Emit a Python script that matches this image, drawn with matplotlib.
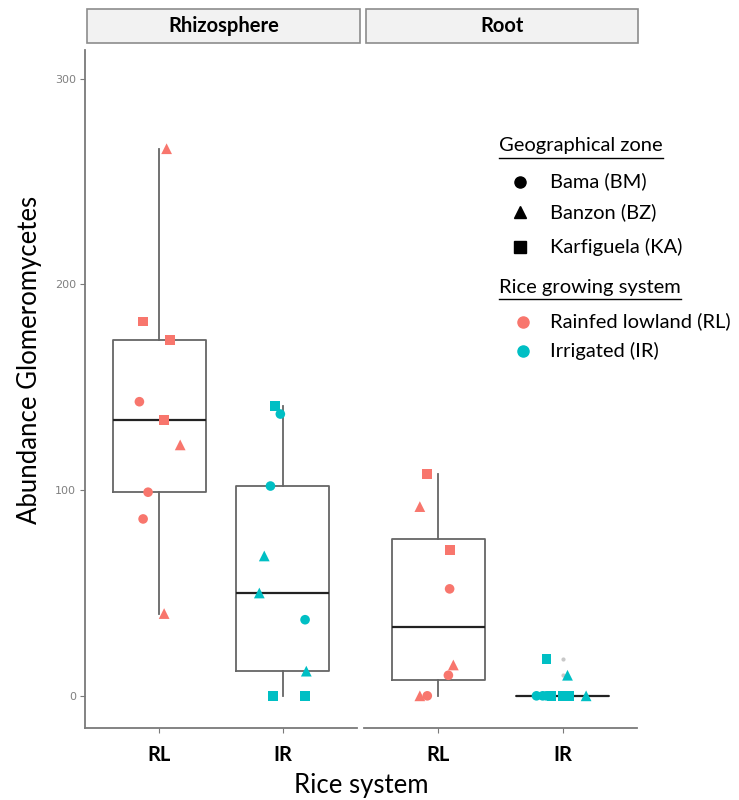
import matplotlib.pyplot as plt
from matplotlib.lines import Line2D
from matplotlib.patches import Rectangle

# values (abundance), zone and jitter offset per point
rhizo_rl = [266, 182, 173, 143, 134, 122, 99, 86, 40]
rhizo_rl_zone = ['BZ', 'KA', 'KA', 'BM', 'KA', 'BZ', 'BM', 'BM', 'BZ']
rhizo_rl_jit = [0.06, -0.13, 0.09, -0.16, 0.04, 0.17, -0.09, -0.13, 0.04]

rhizo_ir = [141, 137, 102, 68, 50, 37, 12, 0, 0]
rhizo_ir_zone = ['KA', 'BM', 'BM', 'BZ', 'BZ', 'BM', 'BZ', 'KA', 'KA']
rhizo_ir_jit = [-0.065, -0.02, -0.10, -0.15, -0.19, 0.18, 0.19, -0.08, 0.18]

root_rl = [108, 92, 71, 52, 15, 10, 0, 0]
root_rl_zone = ['KA', 'BZ', 'KA', 'BM', 'BZ', 'BM', 'BZ', 'BM']
root_rl_jit = [-0.09, -0.15, 0.095, 0.09, 0.12, 0.08, -0.15, -0.09]

root_ir = [18, 10, 0, 0, 0, 0, 0, 0, 0]
root_ir_zone = ['KA', 'BZ', 'BM', 'BM', 'BM', 'KA', 'KA', 'KA', 'BZ']
root_ir_jit = [-0.13, 0.04, -0.21, -0.16, -0.13, -0.09, 0.0, 0.05, 0.19]

panels = ['Rhizosphere', 'Root']
systems = ['RL', 'IR']
zone_labels = ['Bama (BM)', 'Banzon (BZ)', 'Karfiguela (KA)']
system_labels = ['Rainfed lowland (RL)', 'Irrigated (IR)']

colors = {'RL': '#F8766D', 'IR': '#00BFC4'}
shapes = {'BM': 'o', 'BZ': '^', 'KA': 's'}
sizes = {'BM': 48, 'BZ': 60, 'KA': 48}

panel_data = {
    'Rhizosphere': [(rhizo_rl, rhizo_rl_zone, rhizo_rl_jit), (rhizo_ir, rhizo_ir_zone, rhizo_ir_jit)],
    'Root': [(root_rl, root_rl_zone, root_rl_jit), (root_ir, root_ir_zone, root_ir_jit)],
}

W, H = 739, 800
fig = plt.figure(figsize=(W / 100, H / 100), dpi=100)

calib = ['Lato', 'DejaVu Sans']
axcol = '#7a7a7a'

bottom_px, top_px = 727.7, 50
panel_x = [(85, 357), (364, 637)]
strip_x = [(87, 360), (366, 638)]

for i, name in enumerate(panels):
    x0, x1 = panel_x[i]
    ax = fig.add_axes([x0 / W, 1 - bottom_px / H, (x1 - x0) / W, (bottom_px - top_px) / H])
    groups = panel_data[name]
    ax.boxplot([g[0] for g in groups], positions=[1, 2], widths=0.75, showcaps=False,
               boxprops=dict(color='#666666', lw=1.3),
               whiskerprops=dict(color='#666666', lw=1.3),
               medianprops=dict(color='#222222', lw=1.6),
               flierprops=dict(marker='o', markersize=3, markerfacecolor='#c8c8c8',
                               markeredgecolor='none'),
               zorder=1)
    for j, (vals, zones, jit) in enumerate(groups):
        sysname = systems[j]
        for v, z, dx in zip(vals, zones, jit):
            ax.scatter(j + 1 + dx, v, marker=shapes[z], s=sizes[z], color=colors[sysname],
                       edgecolors='none', zorder=3)
    ax.set_xlim(0.4, 2.6)
    ax.set_ylim(-15.5, 314)
    ax.set_xticks([1, 2])
    ax.set_xticklabels(systems, fontfamily=calib, fontweight='bold', fontsize=14.5)
    for s in ['top', 'right']:
        ax.spines[s].set_visible(False)
    ax.spines['bottom'].set_color(axcol)
    ax.spines['bottom'].set_linewidth(1.3)
    ax.tick_params(axis='x', length=3.5, color=axcol, pad=9)
    if i == 0:
        ax.spines['left'].set_color(axcol)
        ax.spines['left'].set_linewidth(1.3)
        ax.set_yticks([0, 100, 200, 300])
        ax.tick_params(axis='y', length=3.5, color=axcol, labelsize=8, labelcolor='#808080', pad=3)
    else:
        ax.spines['left'].set_visible(False)
        ax.set_yticks([])
    # facet strip
    sx0, sx1 = strip_x[i]
    fig.add_artist(Rectangle((sx0 / W, 1 - 43.3 / H), (sx1 - sx0) / W, 34 / H,
                             transform=fig.transFigure, facecolor='#f2f2f2',
                             edgecolor='#8c8c8c', lw=1.2))
    fig.text((sx0 + sx1) / 2 / W, 1 - 26.5 / H, name, ha='center', va='center',
             fontfamily=calib, fontweight='bold', fontsize=14.5)

fig.text(30 / W, 1 - 360 / H, 'Abundance Glomeromycetes', rotation=90, ha='center', va='center',
         fontfamily=calib, fontsize=18.5)
fig.text(361 / W, 1 - 786 / H, 'Rice system', ha='center', va='center',
         fontfamily=calib, fontsize=18.5)

# legend drawn by hand (titles are underlined)
def legend_title(x, y, txt):
    t = fig.text(x / W, 1 - y / H, txt, ha='left', va='center', fontfamily=calib, fontsize=14.5)
    fig.canvas.draw()
    bb = t.get_window_extent()
    ul = y + 12
    fig.add_artist(Line2D([bb.x0 / W, bb.x1 / W], [1 - ul / H, 1 - ul / H],
                          transform=fig.transFigure, color='black', lw=1))

legend_title(499, 146, 'Geographical zone')
zone_y = [181.7, 212, 246.7]
for key, lab, yy in zip(['BM', 'BZ', 'KA'], zone_labels, zone_y):
    fig.add_artist(Line2D([520 / W], [1 - yy / H], marker=shapes[key], markersize=8,
                          color='black', lw=0, transform=fig.transFigure))
    fig.text(550 / W, 1 - yy / H, lab, ha='left', va='center', fontfamily=calib, fontsize=14.5)

legend_title(499, 287, 'Rice growing system')
sys_y = [321.7, 351]
for key, lab, yy in zip(systems, system_labels, sys_y):
    fig.add_artist(Line2D([523 / W], [1 - yy / H], marker='o', markersize=8,
                          color=colors[key], lw=0, transform=fig.transFigure))
    fig.text(550 / W, 1 - yy / H, lab, ha='left', va='center', fontfamily=calib, fontsize=14.5)

fig.savefig('out.png', dpi=100)
